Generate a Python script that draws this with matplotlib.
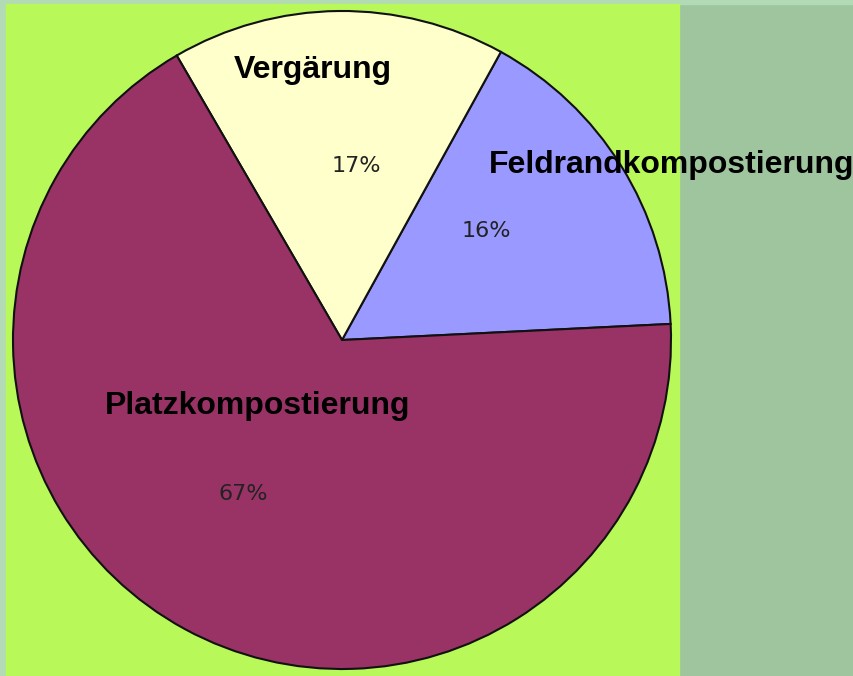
import matplotlib.pyplot as plt
from matplotlib.patches import Rectangle

categories = ['Feldrandkompostierung', 'Vergärung', 'Platzkompostierung']
shares = [16.2, 16.4, 67.4]
pct_labels = ['16%', '17%', '67%']
colors = ['#9999ff', '#ffffcc', '#993366']

W, H = 854, 676

fig = plt.figure(figsize=(W / 100, H / 100), dpi=100, facecolor='#9fc59f')
ax = fig.add_axes([0, 0, 1, 1])


def py(y):
    # pixel row (from top) -> data y
    return H - y


# lighter strips on top and left edge, then the lime plot panel
ax.add_patch(Rectangle((0, py(4)), W, 4, color='#b2dab4', zorder=0))
ax.add_patch(Rectangle((0, 0), 6, H, color='#b2dab4', zorder=0))
ax.add_patch(Rectangle((6, 0), 673, py(4), color='#b8f858', zorder=0))

ax.pie(shares, colors=colors, startangle=2.8, counterclock=True,
       center=(342, py(340)), radius=329,
       wedgeprops=dict(edgecolor='#111111', linewidth=1.5), frame=True)
ax.set_xlim(0, W)
ax.set_ylim(0, H)
ax.set_aspect('equal')
ax.axis('off')

label_font = dict(family='Liberation Sans', weight='bold', fontsize=23, color='black')
ax.text(313, py(70), categories[1], ha='center', va='center', **label_font)
ax.text(489, py(165), categories[0], ha='left', va='center', **label_font)
ax.text(258, py(406), categories[2], ha='center', va='center', **label_font)

pct_font = dict(family='DejaVu Sans', fontsize=16, color='#222222')
ax.text(356, py(166), pct_labels[1], ha='center', va='center', **pct_font)
ax.text(486, py(231), pct_labels[0], ha='center', va='center', **pct_font)
ax.text(243, py(494), pct_labels[2], ha='center', va='center', **pct_font)

fig.savefig('out.png', dpi=100, facecolor=fig.get_facecolor())
